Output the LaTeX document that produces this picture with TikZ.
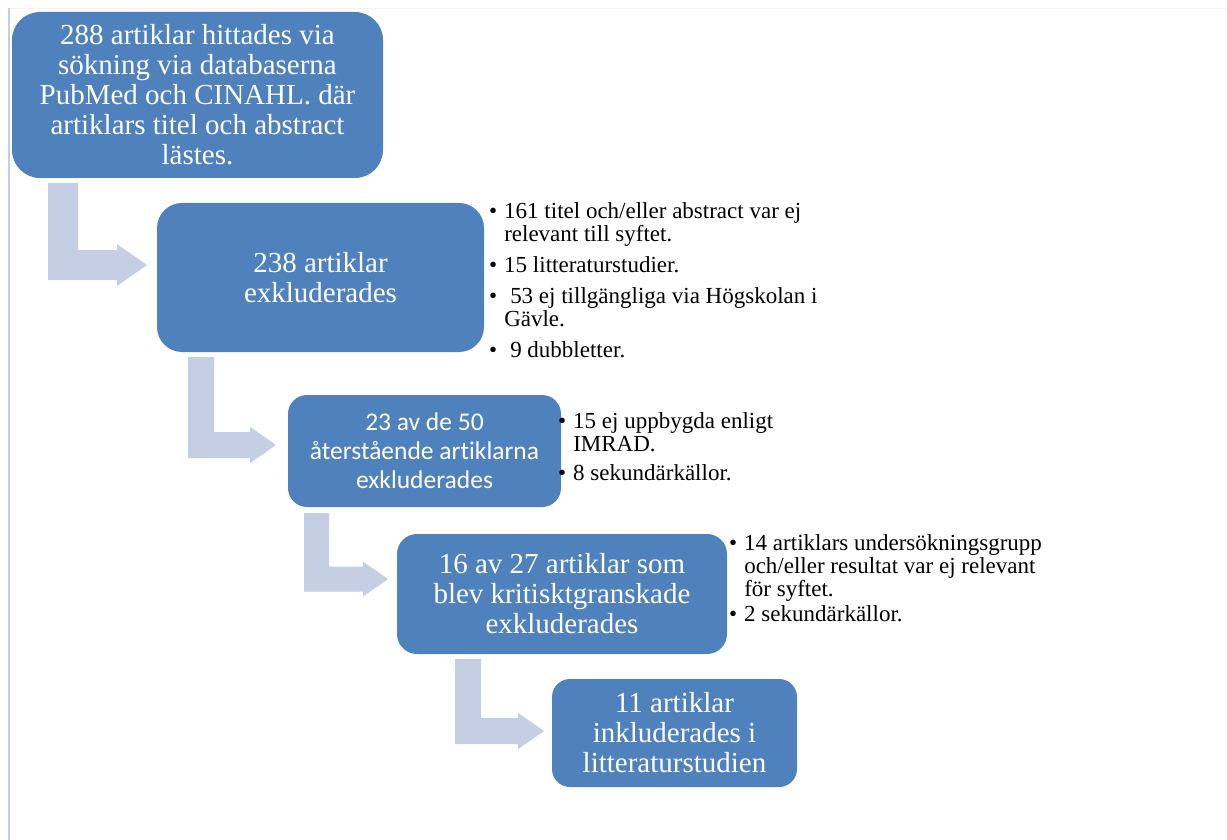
\documentclass[tikz,border=0pt]{standalone}
\usepackage{fontspec}
\setmainfont{Liberation Serif}
\newfontfamily\carlito[Ligatures=NoCommon]{Carlito}
\usepackage{tikz}
\usetikzlibrary{calc}
\definecolor{boxblue}{RGB}{79,129,189}
\definecolor{arrowgray}{RGB}{197,207,227}
\definecolor{frameblue}{RGB}{192,208,234}
\definecolor{framelight}{RGB}{240,244,250}
\tikzset{
  stepbox/.style={fill=boxblue,text=white,align=center,inner sep=0pt,font=\fontsize{29}{30}\selectfont},
  bullets/.style={anchor=north west,align=left,inner sep=0pt,font=\fontsize{23}{23}\selectfont},
}
\newcommand{\bl}{\textbullet\hspace{7pt}}
\newcommand{\ind}{\hphantom{\textbullet}\hspace{7pt}}
\newcommand{\bentarrow}[3]{%
  \fill[arrowgray] let \p1=(#2), \p2=(#3) in
    (\x1,\y1) -- (\x1+#1pt,\y1) -- (\x1+#1pt,\y2+0.5*#1pt) -- (\x2-#1pt,\y2+0.5*#1pt)
    -- (\x2-#1pt,\y2+0.7*#1pt) -- (\x2,\y2) -- (\x2-#1pt,\y2-0.7*#1pt)
    -- (\x2-#1pt,\y2-0.5*#1pt) -- (\x1,\y2-0.5*#1pt) -- cycle;}

\begin{document}
\begin{tikzpicture}[x=1pt,y=-1pt]
    \useasboundingbox (0,0) rectangle (1227,840);
    \draw[framelight,line width=1.2pt] (9,8.5) -- (1227,8.5);
    \draw[frameblue,line width=1.5pt] (9,8) -- (9,840);

    \node[stepbox,minimum width=371pt,minimum height=166pt,rounded corners=28pt] (b1) at (197.5,95)
        {288 artiklar hittades via\\sökning via databaserna\\PubMed och CINAHL. där\\artiklars titel och abstract\\lästes.};
    \node[stepbox,minimum width=327pt,minimum height=149pt,rounded corners=25pt] (b2) at (320.5,277.5)
        {238 artiklar\\exkluderades};
    \node[stepbox,minimum width=273pt,minimum height=112pt,rounded corners=19pt,
        font=\carlito\fontsize{25.5}{29}\selectfont] (b3) at (424.5,451)
        {23 av de 50\\återstående artiklarna\\exkluderades};
    \node[stepbox,minimum width=330pt,minimum height=120pt,rounded corners=20pt] (b4) at (562,594)
        {16 av 27 artiklar som\\blev kritisktgranskade\\exkluderades};
    \node[stepbox,minimum width=245pt,minimum height=108pt,rounded corners=18pt] (b5) at (674.5,733)
        {11 artiklar\\inkluderades i\\litteraturstudien};

    \coordinate (a1s) at (48,183);  \coordinate (a1e) at (147,265);
    \coordinate (a2s) at (188,357); \coordinate (a2e) at (276,445);
    \coordinate (a3s) at (304,513); \coordinate (a3e) at (388,579);
    \coordinate (a4s) at (455,659); \coordinate (a4e) at (544,731);
    \bentarrow{30}{a1s}{a1e}
    \bentarrow{26}{a2s}{a2e}
    \bentarrow{25}{a3s}{a3e}
    \bentarrow{26}{a4s}{a4e}

    \node[bullets] (l1) at (489,202) {\bl161 titel och/eller abstract var ej\\
        \ind relevant till syftet.\\[8pt]
        \bl15 litteraturstudier.\\[8pt]
        \bl\hspace{6pt}53 ej tillgängliga via Högskolan i\\
        \ind Gävle.\\[8pt]
        \bl\hspace{6pt}9 dubbletter.};
    \node[bullets] (l2) at (558,412) {\bl15 ej uppbygda enligt\\
        \ind IMRAD.\\[6pt]
        \bl8 sekundärkällor.};
    \node[bullets] (l3) at (729,534) {\bl14 artiklars undersökningsgrupp\\
        \ind och/eller resultat var ej relevant\\
        \ind för syftet.\\[2pt]
        \bl2 sekundärkällor.};
\end{tikzpicture}
\end{document}
